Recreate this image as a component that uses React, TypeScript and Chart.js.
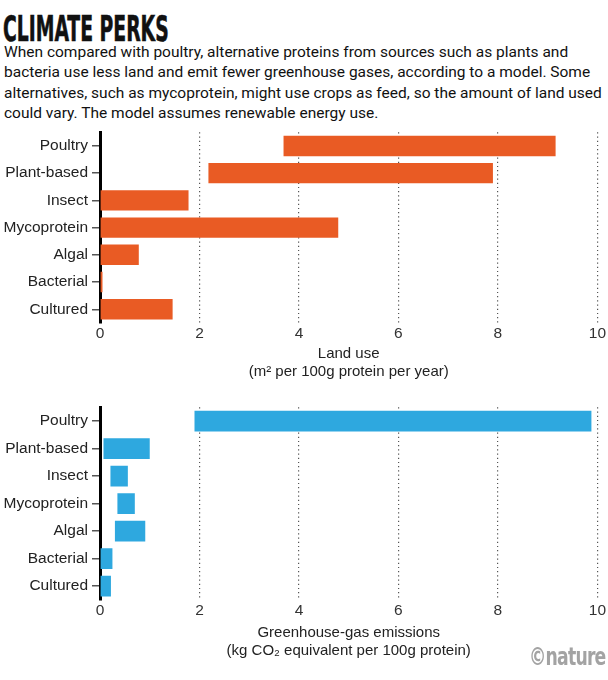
import React, { useEffect, useRef } from 'react';
import Chart from 'chart.js/auto';

const categories = ['Poultry', 'Plant-based', 'Insect', 'Mycoprotein', 'Algal', 'Bacterial', 'Cultured'];

// [low, high] ranges
const landUse: [number, number][] = [
  [3.69, 9.16],
  [2.18, 7.9],
  [0, 1.78],
  [0, 4.79],
  [0, 0.78],
  [0, 0.05],
  [0, 1.46],
];

const emissions: [number, number][] = [
  [1.9, 9.88],
  [0.07, 1.0],
  [0.21, 0.56],
  [0.35, 0.7],
  [0.3, 0.91],
  [0, 0.25],
  [0, 0.22],
];

const xTicks = [0, 2, 4, 6, 8, 10];

const landTitle = ['Land use', '(m² per 100g protein per year)'];
const ghgTitle = ['Greenhouse-gas emissions', '(kg CO₂ equivalent per 100g protein)'];

const subtitleLines = [
  'When compared with poultry, alternative proteins from sources such as plants and',
  'bacteria use less land and emit fewer greenhouse gases, according to a model. Some',
  'alternatives, such as mycoprotein, might use crops as feed, so the amount of land used',
  'could vary. The model assumes renewable energy use.',
];

interface RangeChartProps {
  values: [number, number][];
  color: string;
  axisTitle: string[];
  titleGap: number;
}

const RangeChart: React.FC<RangeChartProps> = ({ values, color, axisTitle, titleGap }) => {
  const chartRef = useRef<HTMLCanvasElement | null>(null);

  useEffect(() => {
    if (!chartRef.current) return;
    const chart = new Chart(chartRef.current, {
      type: 'bar',
      data: {
        labels: categories,
        datasets: [
          {
            data: values,
            backgroundColor: color,
            borderWidth: 0,
            categoryPercentage: 1,
            barPercentage: 0.75,
          },
        ],
      },
      options: {
        indexAxis: 'y',
        animation: false,
        responsive: true,
        maintainAspectRatio: false,
        layout: { padding: { top: 10, right: 9, left: 0, bottom: 0 } },
        plugins: {
          legend: { display: false },
          tooltip: { enabled: false },
        },
        scales: {
          x: {
            min: 0,
            max: 10,
            afterBuildTicks: (scale) => {
              scale.ticks = xTicks.map((v) => ({ value: v }));
            },
            grid: {
              drawTicks: false,
              lineWidth: 1.2,
              color: (ctx) => (ctx.tick && ctx.tick.value === 0 ? 'rgba(0,0,0,0)' : '#555'),
            },
            border: { display: false, dash: [1.2, 3] },
            ticks: {
              padding: 2,
              color: '#333',
              font: { size: 15.5 },
            },
            title: {
              display: true,
              text: axisTitle,
              color: '#222',
              font: { size: 15, lineHeight: 1.15 },
              padding: { top: titleGap, bottom: 0 },
            },
          },
          y: {
            afterFit: (scale) => {
              scale.width = 100;
            },
            grid: {
              offset: false,
              drawOnChartArea: false,
              drawTicks: true,
              tickLength: 8,
              tickColor: '#555',
              lineWidth: 1.5,
            },
            border: { display: true, color: '#000', width: 3 },
            ticks: {
              padding: 4,
              color: '#222',
              font: { size: 15.5 },
            },
          },
        },
      },
    });

    return () => {
      chart.destroy();
    };
  }, [values, color, axisTitle, titleGap]);

  return <canvas ref={chartRef} />;
};

const App: React.FC = () => {
  useEffect(() => {
    document.body.style.margin = '0';
  }, []);

  return (
    <div style={{ position: 'relative', width: 608, height: 680, background: '#fff', fontFamily: 'Roboto, sans-serif', color: '#111' }}>
      <div
        style={{
          position: 'absolute',
          top: 11,
          left: 3,
          fontFamily: '"Liberation Sans Narrow", "DejaVu Sans Condensed", sans-serif',
          fontWeight: 700,
          fontSize: 36,
          lineHeight: '36px',
          whiteSpace: 'nowrap',
          transform: 'scaleX(0.58)',
          transformOrigin: 'left top',
          color: '#111',
          WebkitTextStroke: '0.6px #111',
        }}
      >
        CLIMATE PERKS
      </div>
      <div style={{ position: 'absolute', top: 42, left: 4, fontSize: 15.5, lineHeight: '20.3px', whiteSpace: 'nowrap' }}>
        {subtitleLines.map((line) => (
          <div key={line}>{line}</div>
        ))}
      </div>
      <div style={{ position: 'absolute', top: 119, left: 0, width: 608, height: 261 }}>
        <RangeChart values={landUse} color="#e95b24" axisTitle={landTitle} titleGap={0} />
      </div>
      <div style={{ position: 'absolute', top: 394, left: 0, width: 608, height: 265 }}>
        <RangeChart values={emissions} color="#2ea8df" axisTitle={ghgTitle} titleGap={2} />
      </div>
      <div
        style={{
          position: 'absolute',
          top: 645,
          right: 2,
          fontFamily: '"Liberation Sans Narrow", "DejaVu Sans Condensed", sans-serif',
          fontWeight: 700,
          fontSize: 24,
          lineHeight: '24px',
          letterSpacing: -1,
          transform: 'scaleX(0.8)',
          transformOrigin: 'right top',
          color: '#a3a3a3',
        }}
      >
        ©nature
      </div>
    </div>
  );
};

export default App;
